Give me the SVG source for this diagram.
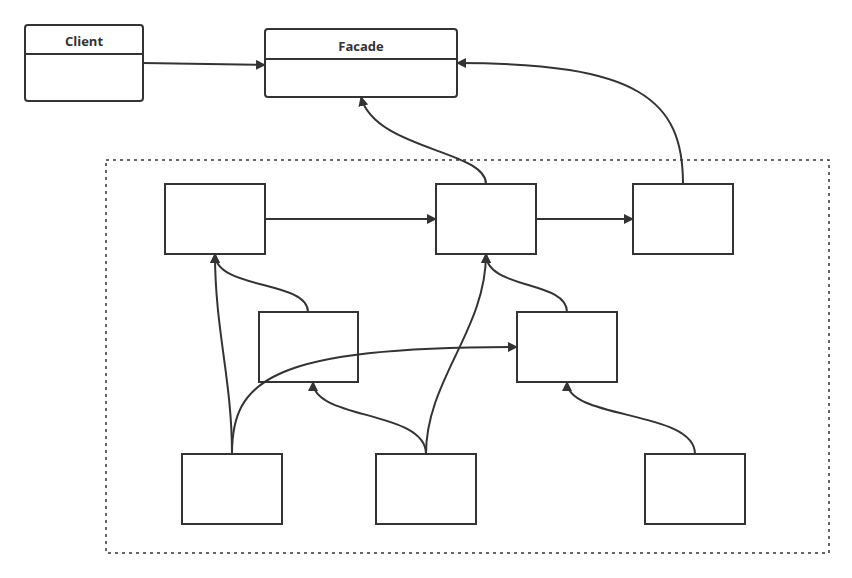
<svg xmlns="http://www.w3.org/2000/svg" width="852" height="578" viewBox="0 0 852 578">
<style>
.n{fill:#fff;stroke:#333;stroke-width:2}
.c{fill:none;stroke:#333;stroke-width:2;marker-end:url(#ah)}
.t{font-family:"Open Sans","Liberation Sans",sans-serif;font-size:13px;font-weight:bold;fill:#333;text-anchor:middle}
</style>
<defs><marker id="ah" markerWidth="10" markerHeight="10" refX="9" refY="5" orient="auto" markerUnits="userSpaceOnUse"><path d="M0,0 L10,5 L0,10 Z" fill="#333"/></marker></defs>
<rect width="852" height="578" fill="#fff"/>
<rect x="106" y="160" width="723" height="393" fill="none" stroke="#333" stroke-width="1.5" stroke-dasharray="3,4"/>
<g id="client"><rect class="n" x="25" y="25" width="118" height="76" rx="3"/><line x1="25" y1="54" x2="143" y2="54" stroke="#333" stroke-width="2"/><text class="t" x="84" y="46">Client</text></g>
<g id="facade"><rect class="n" x="265" y="29" width="192" height="68" rx="3"/><line x1="265" y1="59" x2="457" y2="59" stroke="#333" stroke-width="2"/><text class="t" x="361" y="51">Facade</text></g>
<g id="a"><rect class="n" x="165" y="184" width="100" height="70"/></g>
<g id="b"><rect class="n" x="436" y="184" width="100" height="70"/></g>
<g id="c"><rect class="n" x="633" y="184" width="100" height="70"/></g>
<g id="d"><rect class="n" x="259" y="312" width="99" height="70"/></g>
<g id="e"><rect class="n" x="517" y="312" width="100" height="70"/></g>
<g id="f"><rect class="n" x="182" y="454" width="100" height="70"/></g>
<g id="g"><rect class="n" x="376" y="454" width="100" height="70"/></g>
<g id="h"><rect class="n" x="645" y="454" width="100" height="70"/></g>
<g id="connectors">
<path class="c" d="M143,63 L265,65"/>
<path class="c" d="M486,184 C486,150 375,150 361,97"/>
<path class="c" d="M683,184 C683,100 640,63 457,63"/>
<path class="c" d="M265,219 L436,219"/>
<path class="c" d="M536,219 L633,219"/>
<path class="c" d="M308,312 C308,280 215,290 215,254"/>
<path class="c" d="M232,454 C232,380 215,330 215,254"/>
<path class="c" d="M232,454 C232,380 270,347 517,347"/>
<path class="c" d="M426,454 C426,410 313,420 313,382"/>
<path class="c" d="M426,454 C426,380 486,330 486,254"/>
<path class="c" d="M567,312 C567,280 486,290 486,254"/>
<path class="c" d="M695,454 C695,410 567,420 567,382"/>
</g>
</svg>
